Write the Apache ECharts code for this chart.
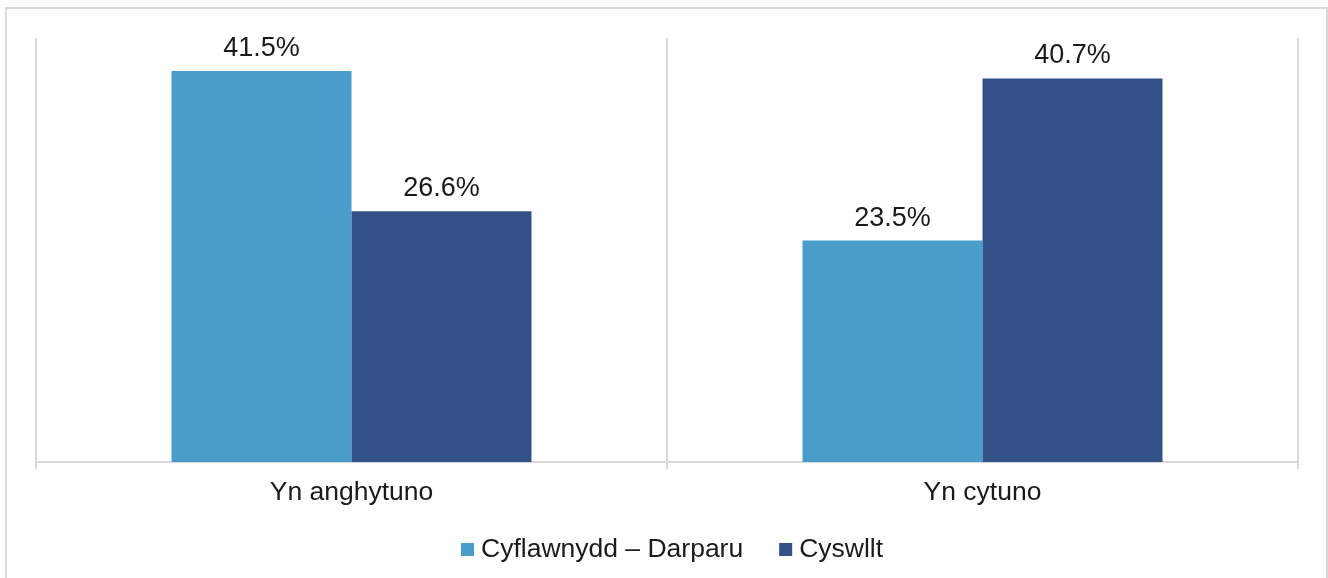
<!DOCTYPE html>
<html>
<head>
<meta charset="utf-8">
<script src="https://cdn.jsdelivr.net/npm/echarts@6/dist/echarts.min.js"></script>
<style>
  html, body { margin: 0; padding: 0; background: #fff; }
  #chart { width: 1328px; height: 578px; }
</style>
</head>
<body>
<div id="chart"></div>
<script>
const categories = ['Yn anghytuno', 'Yn cytuno']
const seriesNames = ['Cyflawnydd – Darparu', 'Cyswllt']
const darparuValues = [41.5, 23.5]
const cyswlltValues = [26.6, 40.7]

const font = 'Liberation Sans, Arial, sans-serif'
const chart = echarts.init(document.getElementById('chart'))

const labelStyle = {
  show: true,
  position: 'top',
  distance: 9,
  formatter: p => p.value.toFixed(1) + '%',
  fontFamily: font,
  fontSize: 27,
  color: '#1a1a1a'
}

chart.setOption({
  animation: false,
  // 外框
  graphic: [{
    type: 'rect',
    shape: { x: 6, y: 8, width: 1321, height: 590 },
    style: { fill: 'none', stroke: '#d9d9d9', lineWidth: 2 },
    silent: true
  }],
  grid: { left: 36, right: 30, top: 38, bottom: 116 },
  legend: {
    data: seriesNames,
    left: 461,
    bottom: 15,
    padding: 0,
    itemWidth: 13,
    itemHeight: 13,
    itemGap: 36,
    icon: 'rect',
    textStyle: { fontFamily: font, fontSize: 26.5, color: '#1a1a1a', padding: [0, 0, 0, 2] }
  },
  xAxis: {
    type: 'category',
    data: categories,
    boundaryGap: true,
    axisLine: { lineStyle: { color: '#d9d9d9', width: 2 } },
    axisTick: { show: true, length: 7, lineStyle: { color: '#d9d9d9', width: 2 } },
    axisLabel: { fontFamily: font, fontSize: 26.5, color: '#1a1a1a', margin: 17 },
    splitLine: { show: true, lineStyle: { color: '#d9d9d9', width: 2 } }
  },
  yAxis: {
    type: 'value',
    min: 0,
    max: 45,
    show: false
  },
  series: [
    {
      name: seriesNames[0],
      type: 'bar',
      data: darparuValues,
      barWidth: 180,
      barGap: '0%',
      itemStyle: { color: '#4a9dca' },
      label: labelStyle
    },
    {
      name: seriesNames[1],
      type: 'bar',
      data: cyswlltValues,
      barWidth: 180,
      barGap: '0%',
      itemStyle: { color: '#325187' },
      label: labelStyle
    }
  ]
})
</script>
</body>
</html>
